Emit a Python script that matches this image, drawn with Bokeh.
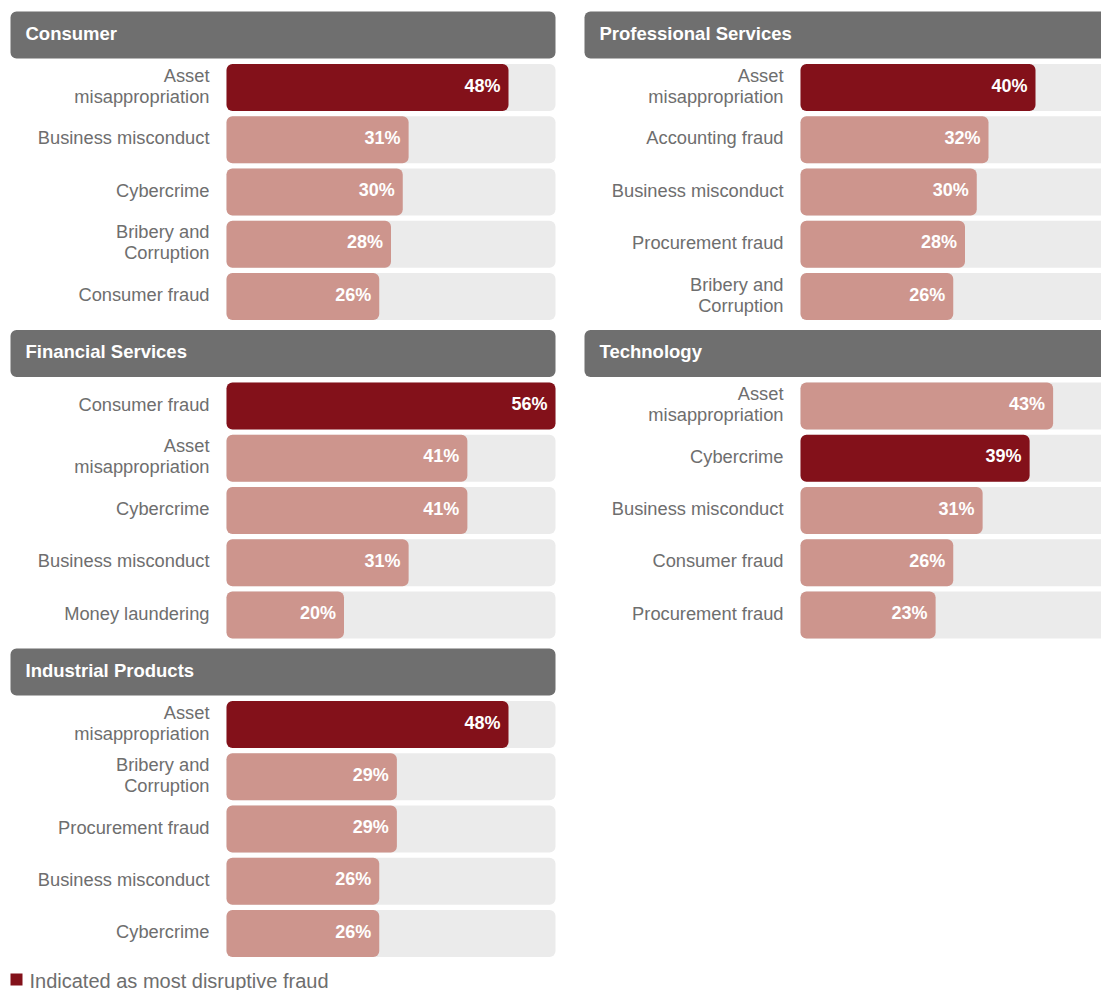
from bokeh.plotting import figure
from bokeh.models import Range1d
from bokeh.core.properties import value
from bokeh.embed import file_html
from bokeh.resources import INLINE

# ---------------- data ----------------
consumer_labels = ["Asset\nmisappropriation", "Business misconduct", "Cybercrime",
                   "Bribery and\nCorruption", "Consumer fraud"]
consumer_values = [48, 31, 30, 28, 26]
consumer_disruptive = [True, False, False, False, False]

financial_labels = ["Consumer fraud", "Asset\nmisappropriation", "Cybercrime",
                    "Business misconduct", "Money laundering"]
financial_values = [56, 41, 41, 31, 20]
financial_disruptive = [True, False, False, False, False]

industrial_labels = ["Asset\nmisappropriation", "Bribery and\nCorruption", "Procurement fraud",
                     "Business misconduct", "Cybercrime"]
industrial_values = [48, 29, 29, 26, 26]
industrial_disruptive = [True, False, False, False, False]

professional_labels = ["Asset\nmisappropriation", "Accounting fraud", "Business misconduct",
                       "Procurement fraud", "Bribery and\nCorruption"]
professional_values = [40, 32, 30, 28, 26]
professional_disruptive = [True, False, False, False, False]

technology_labels = ["Asset\nmisappropriation", "Cybercrime", "Business misconduct",
                     "Consumer fraud", "Procurement fraud"]
technology_values = [43, 39, 31, 26, 23]
technology_disruptive = [False, True, False, False, False]

panels = [
    ("Consumer", consumer_labels, consumer_values, consumer_disruptive, 0, 0),
    ("Financial Services", financial_labels, financial_values, financial_disruptive, 0, 1),
    ("Industrial Products", industrial_labels, industrial_values, industrial_disruptive, 0, 2),
    ("Professional Services", professional_labels, professional_values, professional_disruptive, 1, 0),
    ("Technology", technology_labels, technology_values, technology_disruptive, 1, 1),
]
legend_text = "Indicated as most disruptive fraud"

# ---------------- style ----------------
DARK = "#83111a"
LIGHT = "#cd958d"
TRACK = "#ebebeb"
HEADER = "#6f6f6f"
LABEL = "#6e6e6e"
FONT = "Liberation Sans"

W, H = 1101, 990
K = 5.875                      # pixels per percentage point
TRACK_MAX = max(max(v) for _, _, v, _, _, _ in panels)
X0 = -226 / K
p = figure(width=W, height=H, x_range=Range1d(X0, X0 + W / K), y_range=Range1d(H, 0),
           output_backend="svg", toolbar_location=None, min_border=0,
           x_axis_location=None, y_axis_location=None, background_fill_color="white")
p.grid.visible = False
p.outline_line_color = None


def ux(px):
    return px / K


COL_OFFSET = [0.0, ux(800 - 226)]
PANEL_PITCH = 318.5
ROW_PITCH = 52.25
BAR_H = 47
R = 6
DY = -2

for title, labels, vals, flags, col, row in panels:
    o = COL_OFFSET[col]
    ht = 11 + row * PANEL_PITCH
    p.quad(left=[o - ux(216)], right=[o + TRACK_MAX], top=[ht], bottom=[ht + BAR_H],
           fill_color=HEADER, line_color=None, border_radius=R)
    p.text(x=[o - ux(201)], y=[ht + BAR_H / 2 + DY], text=[title], text_color="white",
           text_font=value(FONT), text_font_style="bold", text_font_size="18.5px",
           text_baseline="middle", text_align="left")
    n = len(vals)
    tops = [ht + 52.5 + i * ROW_PITCH for i in range(n)]
    bots = [t + BAR_H for t in tops]
    mids = [t + BAR_H / 2 + DY for t in tops]
    p.quad(left=[o] * n, right=[o + TRACK_MAX] * n, top=tops, bottom=bots,
           fill_color=TRACK, line_color=None, border_radius=R)
    colors = [DARK if f else LIGHT for f in flags]
    p.quad(left=[o] * n, right=[o + v for v in vals], top=tops, bottom=bots,
           fill_color=colors, line_color=None, border_radius=R)
    p.text(x=[o + v for v in vals], y=mids, text=[f"{v}%" for v in vals],
           x_offset=-8, text_color="white", text_font=value(FONT), text_font_style="bold",
           text_font_size="18px", text_baseline="middle", text_align="right")
    p.text(x=[o] * n, y=mids, text=labels, x_offset=-17,
           text_color=LABEL, text_font=value(FONT), text_font_size="18.3px",
           text_baseline="middle", text_align="right", text_line_height=1.0)

# legend
ly = 979
p.quad(left=[ux(10 - 226)], right=[ux(22 - 226)], top=[ly - 6], bottom=[ly + 6],
       fill_color=DARK, line_color=None)
p.text(x=[ux(29 - 226)], y=[ly + 1], text=[legend_text], text_color=LABEL,
       text_font=value(FONT), text_font_size="20px", text_baseline="middle", text_align="left")

open("out.html", "w").write(file_html(p, INLINE))
